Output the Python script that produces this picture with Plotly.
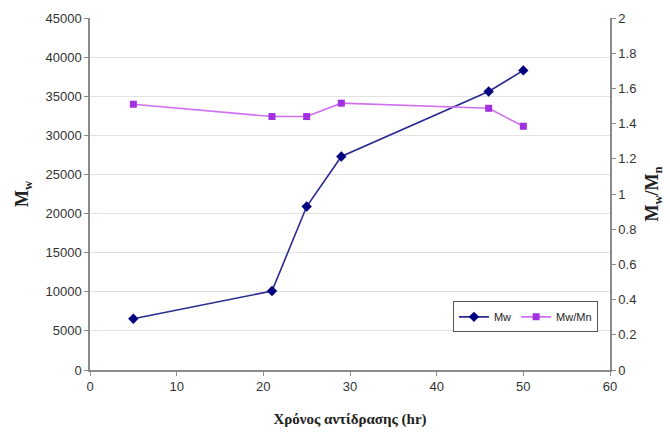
import plotly.graph_objects as go

# Reaction time (hr)
time_hr = [5, 21, 25, 29, 46, 50]
# Weight-average molecular weight
mw = [6560, 10100, 20900, 27300, 35600, 38300]
# Polydispersity index
mw_mn = [1.51, 1.44, 1.44, 1.516, 1.487, 1.385]

x_ticks = [0, 10, 20, 30, 40, 50, 60]
y1_ticks = list(range(0, 45001, 5000))
y2_ticks = [0, 0.2, 0.4, 0.6, 0.8, 1, 1.2, 1.4, 1.6, 1.8, 2]
y2_labels = ["0", "0.2", "0.4", "0.6", "0.8", "1", "1.2", "1.4", "1.6", "1.8", "2"]

tick_font = dict(family="Liberation Sans, Arial, sans-serif", size=13, color="#333333")
title_font = dict(family="Liberation Serif, Times New Roman, serif", size=18, color="#222222")

fig = go.Figure()

fig.add_trace(go.Scatter(
    x=time_hr, y=mw, name="Mw", mode="lines+markers",
    line=dict(color="#2a2a90", width=1.6),
    marker=dict(symbol="diamond", size=8, color="#000080"),
))

fig.add_trace(go.Scatter(
    x=time_hr, y=mw_mn, name="Mw/Mn", mode="lines+markers", yaxis="y2",
    line=dict(color="#D070F0", width=1.6),
    marker=dict(symbol="square", size=7, color="#A030E0"),
))

axis_common = dict(
    showline=True, linecolor="#8a8a8a", linewidth=1.5,
    ticks="outside", tickcolor="#8a8a8a", ticklen=4,
    tickfont=tick_font, zeroline=False,
)

fig.update_layout(
    width=670, height=439,
    margin=dict(l=90, r=60, t=18, b=69),
    paper_bgcolor="white", plot_bgcolor="white",
    showlegend=True,
    legend=dict(
        orientation="h", x=0.698, y=0.195, xanchor="left", yanchor="top",
        bgcolor="white", bordercolor="#555555", borderwidth=1,
        font=dict(family="Liberation Sans, Arial, sans-serif", size=11, color="#222222"),
        itemwidth=30, tracegroupgap=0,
    ),
    xaxis=dict(
        range=[0, 60], tickvals=x_ticks, showgrid=False,
        title=dict(text="<b>Χρόνος αντίδρασης (hr)</b>", font=dict(family=title_font["family"], size=15, color="#222222"), standoff=20),
        **axis_common,
    ),
    yaxis=dict(
        range=[0, 45000], tickvals=y1_ticks, tickformat="d",
        showgrid=True, gridcolor="#e2e2e2", gridwidth=1,
        title=dict(text="<b>M<sub>w</sub></b>", font=title_font, standoff=12),
        **axis_common,
    ),
    yaxis2=dict(
        range=[0, 2], tickvals=y2_ticks, ticktext=y2_labels,
        overlaying="y", side="right", showgrid=False,
        title=dict(text="<b>M<sub>w</sub>/M<sub>n</sub></b>", font=title_font, standoff=10),
        **axis_common,
    ),
)

fig.write_html("out.html")
